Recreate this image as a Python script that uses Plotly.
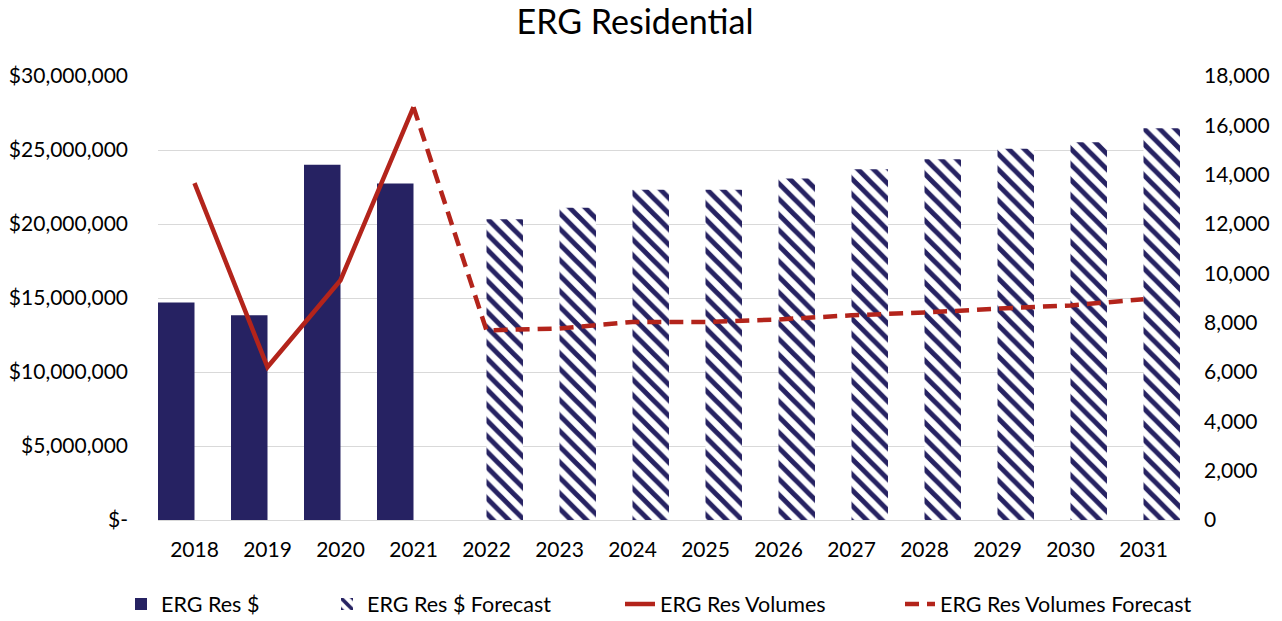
import plotly.graph_objects as go

years = ["2018", "2019", "2020", "2021", "2022", "2023", "2024", "2025",
         "2026", "2027", "2028", "2029", "2030", "2031"]
res_dollars = [14.69e6, 13.83e6, 24.01e6, 22.73e6, None, None, None, None,
               None, None, None, None, None, None]
res_dollars_fc = [None, None, None, None, 20.32e6, 21.10e6, 22.32e6, 22.32e6,
                  23.07e6, 23.70e6, 24.37e6, 25.09e6, 25.52e6, 26.47e6]
res_volumes = [13660, 6200, 9720, 16740, None, None, None, None,
               None, None, None, None, None, None]
res_volumes_fc = [None, None, None, 16740, 7690, 7760, 8030, 8030,
                  8130, 8300, 8410, 8570, 8700, 8950]

left_ticks = [0, 5e6, 10e6, 15e6, 20e6, 25e6, 30e6]
left_text = ["$-", "$5,000,000", "$10,000,000", "$15,000,000",
             "$20,000,000", "$25,000,000", "$30,000,000"]
right_ticks = [0, 2000, 4000, 6000, 8000, 10000, 12000, 14000, 16000, 18000]
right_text = ["0", "2,000", "4,000", "6,000", "8,000", "10,000",
              "12,000", "14,000", "16,000", "18,000"]

NAVY = "#262262"
RED = "#B3241B"
FONT = "Lato"
W, H = 1282, 621

fig = go.Figure()
fig.add_trace(go.Bar(
    x=years, y=res_dollars, name="ERG Res $", legend="legend",
    width=0.5, offset=-0.5,
    marker=dict(color=NAVY, line=dict(width=0)),
))
fig.add_trace(go.Bar(
    x=years, y=res_dollars_fc, name="ERG Res $ Forecast", legend="legend2",
    width=0.5, offset=0,
    marker=dict(color="white", line=dict(width=0),
                pattern=dict(shape="\\", fgcolor=NAVY, bgcolor="white",
                             size=11, solidity=0.45, fillmode="replace")),
))
fig.add_trace(go.Scatter(
    x=years, y=res_volumes, name="ERG Res Volumes", yaxis="y2",
    legend="legend3",
    mode="lines", line=dict(color=RED, width=4.5),
))
fig.add_trace(go.Scatter(
    x=years, y=res_volumes_fc, name="ERG Res Volumes Forecast", yaxis="y2",
    legend="legend4",
    mode="lines", line=dict(color=RED, width=4.5, dash="14px,8px"),
))


def leg(text_start):
    return dict(orientation="h", xref="container", yref="container",
                x=(text_start - 41) / W, xanchor="left",
                y=1 - 604 / H, yanchor="middle",
                font=dict(family=FONT, size=21.5, color="#000000"),
                itemwidth=30, bgcolor="rgba(0,0,0,0)")


fig.update_layout(
    width=W, height=H,
    paper_bgcolor="white", plot_bgcolor="white",
    barmode="overlay",
    font=dict(family=FONT, size=21, color="#000000"),
    title=dict(text="ERG Residential", x=635 / W, xanchor="center",
               xref="container", yref="container",
               y=1 - 22 / H, yanchor="middle",
               font=dict(family=FONT, size=34, color="#000000")),
    margin=dict(l=158, r=102, t=76, b=101, autoexpand=False),
    showlegend=True,
    legend=leg(162),
    legend2=leg(368),
    legend3=leg(661),
    legend4=leg(941),
    xaxis=dict(type="category", showgrid=False, ticks="", automargin=False,
               showline=True, linecolor="#D9D9D9", linewidth=1,
               tickfont=dict(size=21), ticklabelstandoff=11,
               range=[-0.5, 13.5]),
    yaxis=dict(range=[0, 30e6], tickvals=left_ticks, ticktext=left_text,
               showgrid=True, gridcolor="#D9D9D9", gridwidth=1,
               automargin=False,
               zeroline=False, ticks="", ticklabelstandoff=29,
               tickfont=dict(size=21)),
    yaxis2=dict(range=[0, 18000], tickvals=right_ticks, ticktext=right_text,
                overlaying="y", side="right", showgrid=False,
                automargin=False,
                zeroline=False, ticks="", ticklabelstandoff=23,
                tickfont=dict(size=21)),
)

fig.write_html("out.html",
               config={"displayModeBar": False},
               post_script="document.body.style.margin='0';")
